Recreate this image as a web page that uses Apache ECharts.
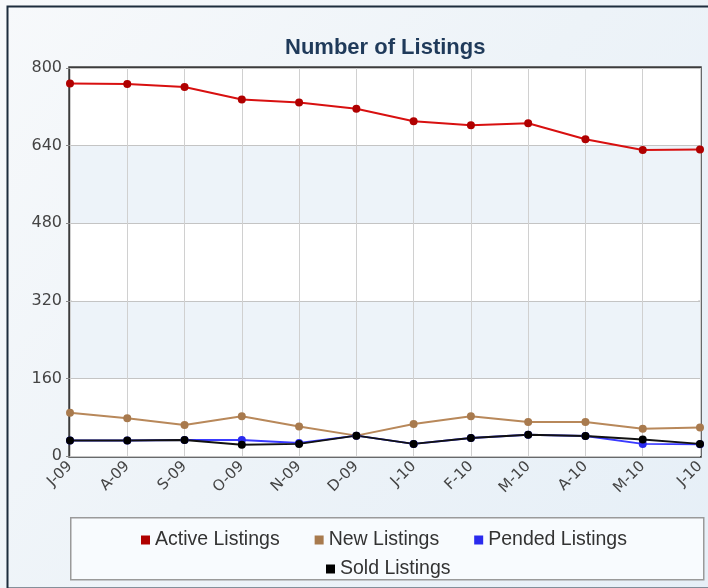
<!DOCTYPE html>
<html>
<head>
<meta charset="utf-8">
<script src="https://cdn.jsdelivr.net/npm/echarts@6/dist/echarts.min.js"></script>
<style>
html,body{margin:0;padding:0;background:#fff;}
#chart{width:708px;height:588px;}
</style>
</head>
<body>
<div id="chart"></div>
<script>
const categories = ['J-09','A-09','S-09','O-09','N-09','D-09','J-10','F-10','M-10','A-10','M-10','J-10'];
const activeListings = [768, 767, 761, 735, 729, 716, 690, 682, 686, 653, 631, 632];
const newListings    = [89, 78, 64, 82, 61, 42, 66, 82, 70, 70, 56, 59];
const pendedListings = [32, 32, 33, 33, 27, 42, 25, 37, 44, 41, 25, 24];
const soldListings   = [32, 32, 33, 23, 25, 42, 25, 37, 44, 41, 34, 25];
const yTicks = [0, 160, 320, 480, 640, 800];

const FONT = 'Liberation Sans, Arial, sans-serif';
const WFONT = 'DejaVu Sans, Verdana, sans-serif';
const chart = echarts.init(document.getElementById('chart'), null, {renderer: 'canvas'});

function lineSeries(name, data, lineColor, dotColor) {
  return {
    name, type: 'line', data,
    symbol: 'circle', symbolSize: 8,
    lineStyle: {color: lineColor, width: 2},
    itemStyle: {color: dotColor},
    emphasis: {disabled: true},
    animation: false
  };
}

const legendText = {fontFamily: FONT, fontSize: 19.5, color: '#333'};

chart.setOption({
  animation: false,
  backgroundColor: {
    type: 'linear', x: 0, y: 0, x2: 1, y2: 1,
    colorStops: [{offset: 0, color: '#f7f9fb'}, {offset: 0.5, color: '#edf3f8'}, {offset: 1, color: '#e6eff7'}]
  },
  graphic: [
    {type: 'rect', left: 5, top: 4, shape: {width: 712, height: 582},
     style: {fill: 'none', stroke: '#1d2d3d', lineWidth: 2}, silent: true, z: 100},
    {type: 'rect', left: 70, top: 517, shape: {width: 633, height: 62},
     style: {fill: '#f8fbfe', stroke: '#9a9a9a', lineWidth: 1.5}, silent: true, z: 0}
  ],
  title: {
    text: 'Number of Listings',
    left: 280, top: 32,
    textStyle: {fontFamily: FONT, fontSize: 22, fontWeight: 'bold', color: '#1f3a5a'}
  },
  legend: [
    {
      data: ['Active Listings', 'New Listings', 'Pended Listings'],
      left: 136, top: 525, itemGap: 35,
      icon: 'rect', itemWidth: 9, itemHeight: 9,
      textStyle: legendText,
      selectedMode: false
    },
    {
      data: ['Sold Listings'],
      left: 321, top: 554,
      icon: 'rect', itemWidth: 9, itemHeight: 9,
      textStyle: legendText,
      selectedMode: false
    }
  ],
  grid: {
    left: 70, right: 8, top: 68, bottom: 132,
    show: true, backgroundColor: '#ffffff', borderColor: '#3c3c3c', borderWidth: 3.5, z: 0
  },
  xAxis: {
    type: 'category', data: categories, boundaryGap: false,
    axisLine: {show: false},
    axisTick: {show: false},
    axisLabel: {rotate: 45, fontFamily: WFONT, fontSize: 15, color: '#444', margin: 8, interval: 0},
    splitLine: {show: true, lineStyle: {color: '#d0d0d0', width: 1}}
  },
  yAxis: {
    type: 'value', min: 0, max: 800, interval: 160,
    axisLine: {show: false},
    axisTick: {show: true, length: 4, lineStyle: {color: '#888'}},
    axisLabel: {fontFamily: WFONT, fontSize: 16, color: '#444', margin: 8},
    splitLine: {show: true, lineStyle: {color: '#c4c4c4', width: 1}},
    splitArea: {show: true, areaStyle: {color: ['#ffffff', '#edf3f9']}}
  },
  series: [
    lineSeries('Active Listings', activeListings, '#d81010', '#b00000'),
    lineSeries('New Listings', newListings, '#b8885a', '#a87a4e'),
    lineSeries('Pended Listings', pendedListings, '#3a3aff', '#2a2aee'),
    lineSeries('Sold Listings', soldListings, '#111111', '#000000')
  ]
});
</script>
</body>
</html>
